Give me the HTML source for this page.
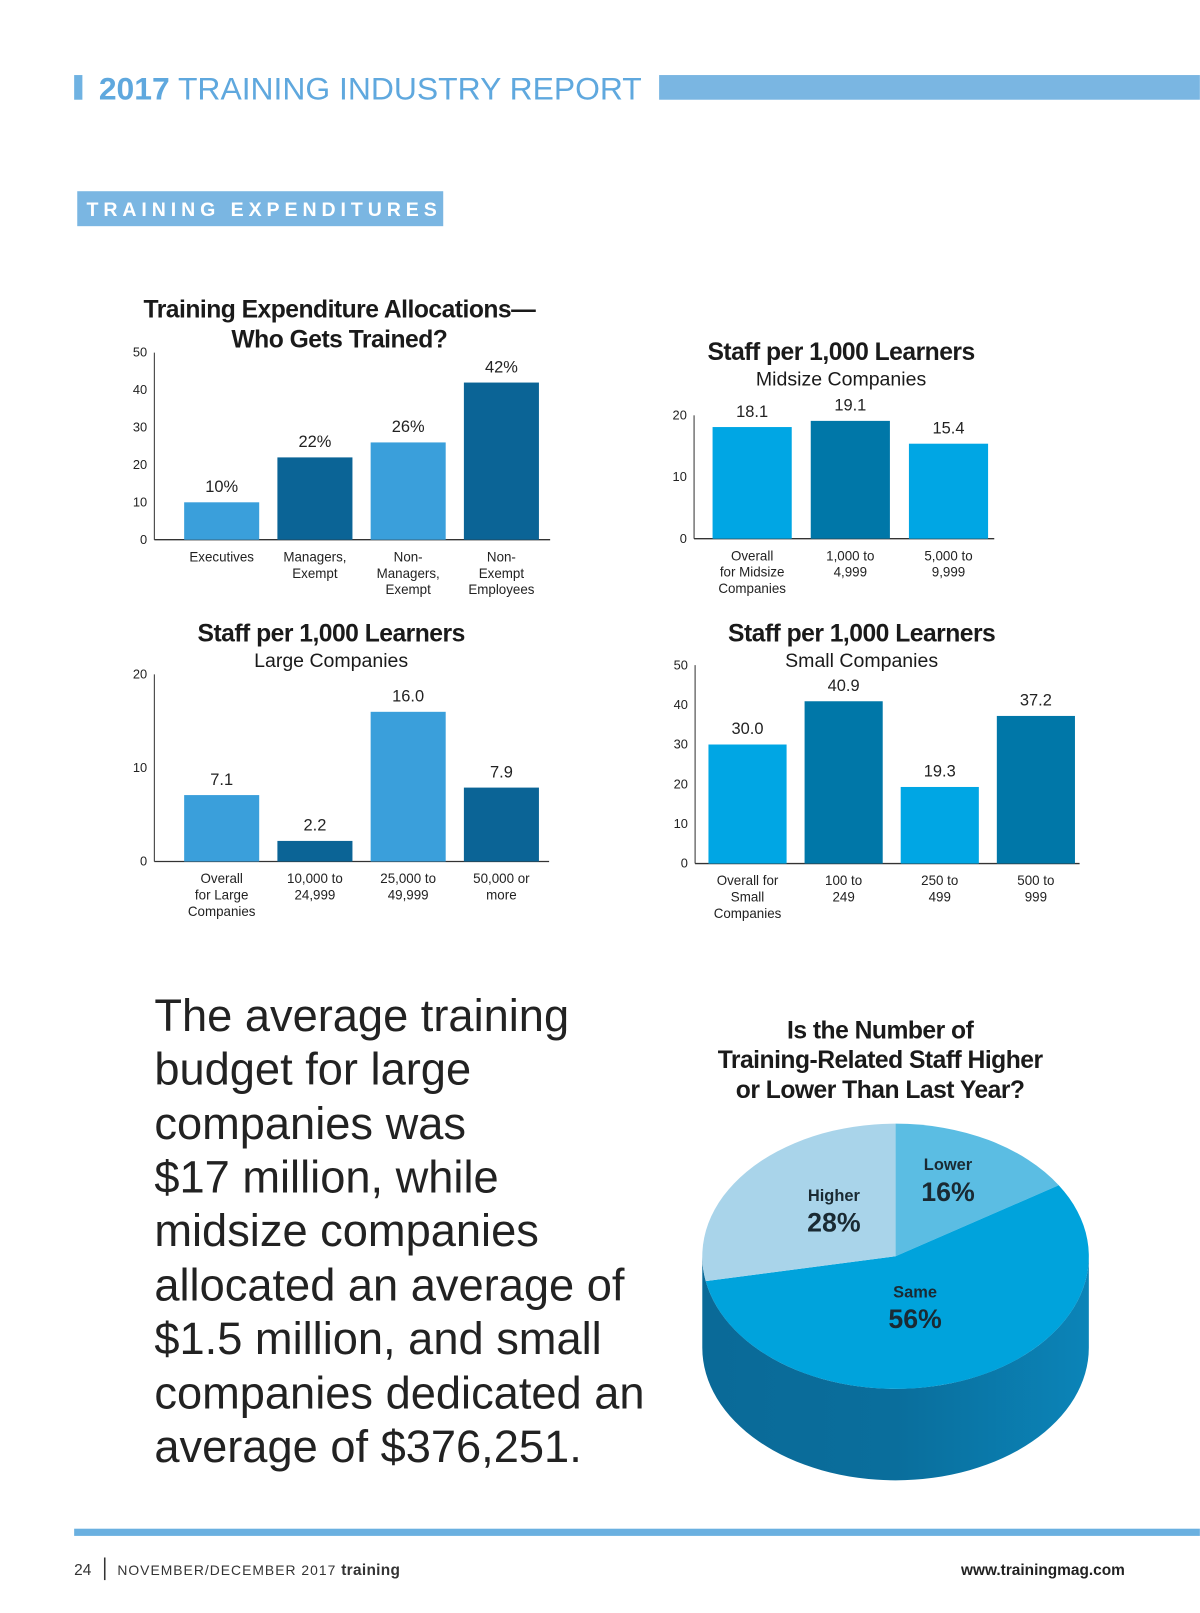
<!DOCTYPE html>
<html><head><meta charset="utf-8"><style>
html,body{margin:0;padding:0;background:#fff;}
svg{display:block;}
text{font-family:"Liberation Sans",sans-serif;}
.t{font-weight:bold;font-size:24px;fill:#1a1a1a;text-anchor:middle;letter-spacing:-0.5px;}
.s{font-size:19px;fill:#1a1a1a;text-anchor:middle;}
.tk{font-size:12.5px;fill:#222;text-anchor:end;}
.cl{font-size:13px;fill:#222;text-anchor:middle;}
.vl{font-size:16px;fill:#222;text-anchor:middle;}
</style></head><body>
<svg id="page" width="1200" height="1613" viewBox="0 0 1167 1569" xmlns="http://www.w3.org/2000/svg">
<rect x="72" y="73" width="8" height="24" fill="#6fb2e2"/>
<text x="96" y="97" font-size="31" fill="#5fa8de"><tspan font-weight="bold">2017</tspan> TRAINING INDUSTRY REPORT</text>
<rect x="641" y="73" width="526" height="24" fill="#7ab6e2"/>
<rect x="75" y="186" width="356" height="34" fill="#7ab6e2"/>
<text x="84" y="210" font-size="19" font-weight="bold" fill="#fff" letter-spacing="4.8">TRAINING EXPENDITURES</text>

<text class="t" x="330" y="309">Training Expenditure Allocations—</text>
<text class="t" x="330" y="338">Who Gets Trained?</text>
<g id="c1"></g>

<text class="t" x="818" y="350">Staff per 1,000 Learners</text>
<text class="s" x="818" y="375">Midsize Companies</text>
<g id="c2"></g>

<text class="t" x="322" y="624">Staff per 1,000 Learners</text>
<text class="s" x="322" y="649">Large Companies</text>
<g id="c3"></g>

<text class="t" x="838" y="624">Staff per 1,000 Learners</text>
<text class="s" x="838" y="649">Small Companies</text>
<g id="c4"></g>

<g font-size="44" fill="#222">
<text x="150" y="1003">The average training</text>
<text x="150" y="1055">budget for large</text>
<text x="150" y="1108">companies was</text>
<text x="150" y="1160">$17 million, while</text>
<text x="150" y="1212">midsize companies</text>
<text x="150" y="1265">allocated an average of</text>
<text x="150" y="1317">$1.5 million, and small</text>
<text x="150" y="1370">companies dedicated an</text>
<text x="150" y="1422">average of $376,251.</text>
</g>

<text class="t" x="856" y="1010">Is the Number of</text>
<text class="t" x="856" y="1039">Training-Related Staff Higher</text>
<text class="t" x="856" y="1068">or Lower Than Last Year?</text>
<defs><linearGradient id="side" x1="0" x2="1" y1="0" y2="0">
<stop offset="0" stop-color="#0a6a98"/><stop offset="0.5" stop-color="#0a6e9c"/><stop offset="1" stop-color="#0b84b8"/></linearGradient></defs>
<g id="pie"></g>

<rect x="72" y="1487" width="1095" height="7" fill="#6ab0e0"/>
<text x="72" y="1532" font-size="15" fill="#333">24</text>
<rect x="101" y="1515" width="1.5" height="22" fill="#333"/>
<text x="114" y="1532" font-size="13.5" fill="#333" letter-spacing="1">NOVEMBER/DECEMBER 2017 <tspan font-weight="bold" font-size="15" letter-spacing="0.3">training</tspan></text>
<text x="1094" y="1532" font-size="15" font-weight="bold" fill="#222" text-anchor="end">www.trainingmag.com</text>
</svg>
<script>
const NS="http://www.w3.org/2000/svg";
// Chart 1 data
const c1Cats=[["Executives"],["Managers,","Exempt"],["Non-","Managers,","Exempt"],["Non-","Exempt","Employees"]];
const c1Vals=[10,22,26,42];
const c1Labels=["10%","22%","26%","42%"];
const c1Ticks=[0,10,20,30,40,50];
// Chart 2 data
const c2Cats=[["Overall","for Midsize","Companies"],["1,000 to","4,999"],["5,000 to","9,999"]];
const c2Vals=[18.1,19.1,15.4];
const c2Ticks=[0,10,20];
// Chart 3 data
const c3Cats=[["Overall","for Large","Companies"],["10,000 to","24,999"],["25,000 to","49,999"],["50,000 or","more"]];
const c3Vals=[7.1,2.2,16.0,7.9];
const c3Ticks=[0,10,20];
// Chart 4 data
const c4Cats=[["Overall for","Small","Companies"],["100 to","249"],["250 to","499"],["500 to","999"]];
const c4Vals=[30.0,40.9,19.3,37.2];
const c4Ticks=[0,10,20,30,40,50];
// Pie data
const pieNames=["Lower","Same","Higher"];
const pieVals=[16,56,28];

function el(tag,attrs,parent,txt){const e=document.createElementNS(NS,tag);for(const k in attrs)e.setAttribute(k,attrs[k]);if(txt!==undefined)e.textContent=txt;parent.appendChild(e);return e;}

function bar(gid,cfg,cats,vals,labels,ticks){
  const g=document.getElementById(gid);
  const y=v=>cfg.y0-(v-0)/(cfg.max)*(cfg.y0-cfg.yTop);
  const ax=el('line',{x1:cfg.x0,x2:cfg.x0,y1:cfg.yTop,y2:cfg.y0,stroke:'#333','stroke-width':1},g);
  
  const xa=el('line',{x1:cfg.x0,x2:cfg.xEnd,y1:cfg.y0,y2:cfg.y0,stroke:'#333','stroke-width':1.3},g);
  
  ticks.forEach(t=>{const tx=el('text',{class:'tk',x:cfg.x0-7,y:y(t)+4},g,String(t));
    });
  vals.forEach((v,i)=>{
    const bx=cfg.x0+cfg.pad+i*cfg.band, w=cfg.w, cx=bx+w/2;
    const r=el('rect',{x:bx,y:y(v),width:w,height:cfg.y0-y(v),fill:cfg.colors[i%2]},g);
    
    const lb=el('text',{class:'vl',x:cx,y:y(v)-10},g,labels?labels[i]:v.toFixed(1));
    
    cats[i].forEach((line,j)=>{const c=el('text',{class:'cl',x:cx,y:cfg.y0+21+j*16},g,line);
      });
  });
}
bar('c1',{x0:150,xEnd:535,y0:525,yTop:343,max:50,pad:29,band:90.7,w:73,colors:['#3a9fdb','#0b6496']},c1Cats,c1Vals,c1Labels,c1Ticks);
bar('c2',{x0:675,xEnd:967,y0:524,yTop:404,max:20,pad:18,band:95.5,w:77,colors:['#00a6e4','#0077a8']},c2Cats,c2Vals,null,c2Ticks);
bar('c3',{x0:150,xEnd:534,y0:838,yTop:656,max:20,pad:29,band:90.7,w:73,colors:['#3a9fdb','#0b6496']},c3Cats,c3Vals,null,c3Ticks);
bar('c4',{x0:676,xEnd:1050,y0:840,yTop:647,max:50,pad:13,band:93.5,w:76,colors:['#00a6e4','#0077a8']},c4Cats,c4Vals,null,c4Ticks);

// Pie
(function(){
  const g=document.getElementById('pie');
  const cx=871,cy=1222,rx=188,ry=129,d=89;
  const cols=['#5bbde3','#00a3dc','#a9d4ea'];
  const pt=(t,dy=0)=>[cx+rx*Math.sin(t),cy-ry*Math.cos(t)+dy];
  const a=pt(Math.PI/2),b=pt(3*Math.PI/2);
  const side=el('path',{d:`M${a[0]},${a[1]} L${a[0]},${a[1]+d} A${rx},${ry} 0 0 1 ${b[0]},${b[1]+d} L${b[0]},${b[1]} A${rx},${ry} 0 0 0 ${a[0]},${a[1]} Z`,fill:'url(#side)'},g);
  
  const total=pieVals.reduce((s,v)=>s+v,0);let acc=0;
  const labelPos=[[922,1138,1168],[890,1262,1292],[811,1168,1198]];
  pieVals.forEach((v,i)=>{
    const t0=acc/total*2*Math.PI;acc+=v;const t1=acc/total*2*Math.PI;
    const p0=pt(t0),p1=pt(t1),large=(t1-t0)>Math.PI?1:0;
    const s=el('path',{d:`M${cx},${cy} L${p0[0]},${p0[1]} A${rx},${ry} 0 ${large} 1 ${p1[0]},${p1[1]} Z`,fill:cols[i]},g);
    
  });
  pieVals.forEach((v,i)=>{
    const [lx,ly1,ly2]=labelPos[i];
    const n=el('text',{x:lx,y:ly1,'font-size':16,'font-weight':'bold',fill:'#1a2a33','text-anchor':'middle'},g,pieNames[i]);
    
    const p=el('text',{x:lx,y:ly2,'font-size':26,'font-weight':'bold',fill:'#1a2a33','text-anchor':'middle'},g,v+'%');
    
  });
})();
</script>
</body></html>
